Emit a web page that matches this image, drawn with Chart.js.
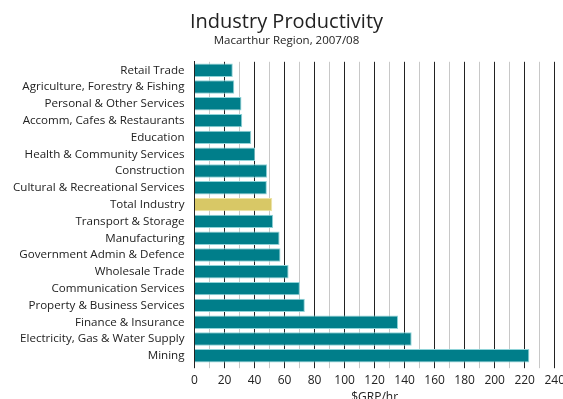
<!DOCTYPE html>
<html>
<head>
<meta charset="utf-8">
<script src="https://cdn.jsdelivr.net/npm/chart.js@4"></script>
<style>
  html, body { margin:0; padding:0; background:#fff; }
  #wrap { width:563px; height:399px; overflow:hidden; }
</style>
</head>
<body>
<div id="wrap"><canvas id="prodChart" width="570" height="399"></canvas></div>
<script>
// industries, top to bottom
const industries = [
  "Retail Trade",
  "Agriculture, Forestry & Fishing",
  "Personal & Other Services",
  "Accomm, Cafes & Restaurants",
  "Education",
  "Health & Community Services",
  "Construction",
  "Cultural & Recreational Services",
  "Total Industry",
  "Transport & Storage",
  "Manufacturing",
  "Government Admin & Defence",
  "Wholesale Trade",
  "Communication Services",
  "Property & Business Services",
  "Finance & Insurance",
  "Electricity, Gas & Water Supply",
  "Mining"
];
// $GRP per hour worked
const grpPerHour = [25.5, 26.5, 31.3, 31.8, 37.8, 40.4, 48.4, 48.2, 51.8, 52.4,
                    56.7, 57.3, 62.7, 70.2, 73.5, 135.6, 144.7, 223.1];

const TEAL = "#007e8a";
const GOLD = "#d8c866";
const FONT = "'Open Sans', sans-serif";

const barColors = industries.map(n => n === "Total Industry" ? GOLD : TEAL);
const edgeColors = industries.map(n => n === "Total Industry" ? "#ece3a6" : "#8fd3d8");

new Chart(document.getElementById("prodChart"), {
  type: "bar",
  data: {
    labels: industries,
    datasets: [{
      data: grpPerHour,
      backgroundColor: barColors,
      borderColor: edgeColors,
      borderWidth: 1,
      borderSkipped: "left",
      barPercentage: 0.8,
      categoryPercentage: 1
    }]
  },
  options: {
    indexAxis: "y",
    responsive: false,
    animation: false,
    layout: { padding: { left: 3, right: 0, top: 6, bottom: -6 } },
    plugins: {
      legend: { display: false },
      tooltip: { enabled: false },
      title: {
        display: true,
        text: "Industry Productivity",
        color: "#222",
        font: { family: FONT, size: 20, weight: "normal" },
        padding: { top: 4, bottom: 0 }
      },
      subtitle: {
        display: true,
        text: "Macarthur Region, 2007/08",
        color: "#222",
        font: { family: FONT, size: 11.5 },
        padding: { top: 0, bottom: 14 }
      }
    },
    scales: {
      x: {
        min: 0,
        max: 240,
        ticks: {
          stepSize: 10,
          autoSkip: false,
          maxRotation: 0,
          color: "#222",
          font: { family: FONT, size: 12 },
          padding: 5,
          callback: v => v % 20 === 0 ? v : ""
        },
        grid: {
          color: c => c.tick && c.tick.value % 20 === 0 ? "#222" : "#c8c8c8",
          lineWidth: 1,
          tickLength: 4
        },
        border: { display: false },
        title: {
          display: true,
          text: "$GRP/hr",
          color: "#222",
          font: { family: FONT, size: 12 },
          padding: { top: -2, bottom: 0 }
        }
      },
      y: {
        ticks: {
          color: "#222",
          font: { family: FONT, size: 11.6 },
          padding: 10,
          autoSkip: false
        },
        grid: { display: false, drawTicks: false },
        border: { display: true, color: "#222", width: 1 }
      }
    }
  }
});
</script>
</body>
</html>
